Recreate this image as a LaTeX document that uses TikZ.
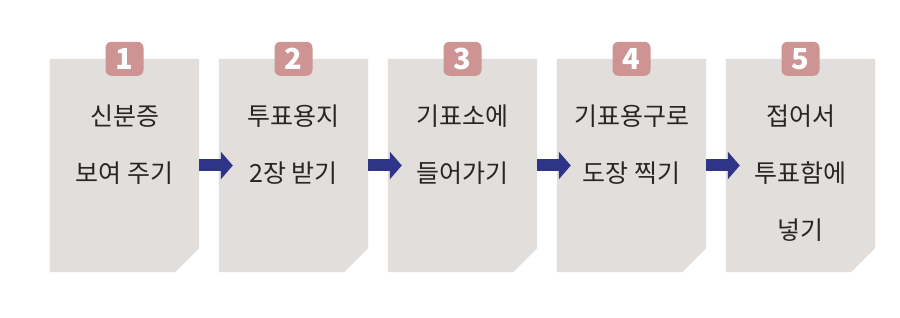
\documentclass[tikz,border=0pt]{standalone}
\usepackage{fontspec}
\setmainfont{Noto Sans CJK KR}
\usetikzlibrary{arrows.meta,positioning,calc}
\definecolor{paper}{HTML}{E2DEDB}
\definecolor{badge}{HTML}{CE9393}
\definecolor{ink}{HTML}{262626}
\definecolor{navy}{HTML}{2E3589}
\tikzset{
  card/.style={minimum width=149pt,minimum height=213pt,inner sep=0pt,draw=none},
  num/.style={fill=badge,text=white,rounded corners=6pt,font=\fontsize{29}{29}\selectfont\bfseries,
    minimum width=38pt,minimum height=34pt,inner sep=0pt},
  lbl/.style={font=\fontsize{25}{57}\selectfont,text=ink,align=center,inner sep=0pt},
  arr/.style={-{Triangle[length=12pt,width=27pt]},line width=12pt,draw=navy},
}

\begin{document}
\begin{tikzpicture}[x=1pt,y=-1pt]
    \useasboundingbox[fill=white] (0,0) rectangle (900,318);
    \foreach \i/\txt in {1/{신분증\\보여 주기},2/{투표용지\\2장 받기},3/{기표소에\\들어가기},
        4/{기표용구로\\도장 찍기},5/{접어서\\투표함에\\넣기}} {
      \node[card] (c\i) at (124.5+169*\i-169,165.5) {};
      \fill[paper] (c\i.north west) -- (c\i.north east) -- ([yshift=24pt]c\i.south east)
        -- ([xshift=-24pt]c\i.south east) -- (c\i.south west) -- cycle;
      \node[num] (n\i) at (c\i.north) {\i};
      \node[lbl,below=46pt of c\i.north] (t\i) {\txt};
    }
    \foreach \i [evaluate=\i as \j using int(\i+1)] in {1,...,4}
      \draw[arr] (c\i.east) -- ([xshift=14pt]c\j.west);
  \end{tikzpicture}
\end{document}
